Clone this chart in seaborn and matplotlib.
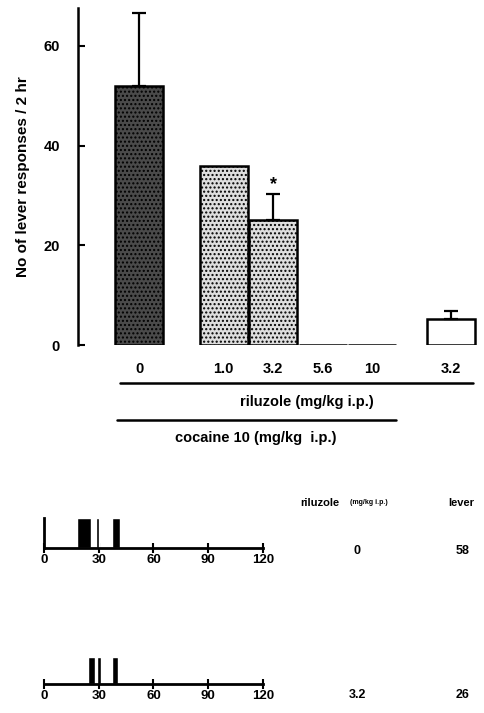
import matplotlib
matplotlib.use("Agg")
import matplotlib.pyplot as plt
import seaborn as sns
import numpy as np
import pandas as pd

# --- bar chart data: cocaine 10 mg/kg + riluzole, and riluzole alone ---
dose_labels = ['0', '1.0', '3.2', '5.6', '10', '3.2']
responses = [52, 36, 25.1, 0, 0, 5.2]
sem = [14.5, 0, 5.2, 0, 0, 1.6]
bar_pos = [0, 1.7, 2.7, 3.7, 4.7, 6.3]

# --- cumulative records (response bursts, minutes) ---
rec_times = [0, 30, 60, 90, 120]
rec1_bursts = [(17.9, 25.8), (28.3, 30.0), (37.1, 41.6)]
rec2_bursts = [(24.3, 28.2), (28.8, 31.2), (37.3, 40.6)]
rec_dose = ['0', '3.2']
rec_lever = ['58', '26']

sns.set_theme(style='white')
plt.rcParams['font.family'] = ['Liberation Sans', 'DejaVu Sans']
plt.rcParams['font.weight'] = 'bold'
plt.rcParams['text.color'] = 'black'
plt.rcParams['axes.labelcolor'] = 'black'
plt.rcParams['xtick.color'] = 'black'
plt.rcParams['ytick.color'] = 'black'

fig = plt.figure(figsize=(4.85, 7.13), dpi=100)

ax = fig.add_axes([0.1608, 0.5161, 0.8247, 0.4727])
df = pd.DataFrame({'pos': bar_pos, 'resp': responses})
sns.barplot(data=df, x='pos', y='resp', native_scale=True, width=0.97,
            color='white', edgecolor='black', linewidth=1.8, ax=ax,
            errorbar=None)

faces = ['#4a4a4a', '#dedede', '#dedede', 'white', 'white', 'white']
hatches = ['....', '....', '....', None, None, None]
for p, fc, h in zip(ax.patches, faces, hatches):
    p.set_facecolor(fc)
    p.set_edgecolor('black')
    if h:
        p.set_hatch(h)

pos = np.array(bar_pos)
resp = np.array(responses)
err = np.array(sem)
m = err > 0
ax.errorbar(pos[m], resp[m], yerr=[np.zeros(m.sum()), err[m]], fmt='none',
            ecolor='black', elinewidth=1.6, capsize=5, capthick=1.6)
ax.text(2.7, 30.4, '*', ha='center', va='bottom', fontsize=13)

ax.set_xlim(-1.2424, 6.838)
ax.set_ylim(0, 67.6)
ax.set_yticks([0, 20, 40, 60])
ax.set_yticklabels(['0', '20', '40', '60'], fontsize=10.5, fontweight='bold')
ax.tick_params(axis='y', direction='in', length=5, width=1.5, pad=13, left=True)
ax.set_xticks(bar_pos)
ax.set_xticklabels(dose_labels, fontsize=10.5, fontweight='bold')
ax.tick_params(axis='x', length=0, pad=12)
for s in ['top', 'right', 'bottom']:
    ax.spines[s].set_visible(False)
ax.spines['left'].set_linewidth(1.8)
ax.spines['left'].set_color('black')
ax.set_xlabel('')
ax.set_ylabel('No of lever responses / 2 hr', fontsize=11, fontweight='bold', labelpad=10)

tr = ax.get_xaxis_transform()
ax.plot([-0.394, 6.74], [-0.1128, -0.1128], color='black', lw=1.8, transform=tr, clip_on=False)
ax.plot([-0.455, 5.18], [-0.2226, -0.2226], color='black', lw=1.8, transform=tr, clip_on=False)
ax.text(3.38, -0.169, 'riluzole (mg/kg i.p.)', transform=tr, ha='center', va='center',
        fontsize=10.5, fontweight='bold')
ax.text(2.35, -0.276, 'cocaine 10 (mg/kg  i.p.)', transform=tr, ha='center', va='center',
        fontsize=10.5, fontweight='bold')

# --- cumulative records ---
rec_axes = [fig.add_axes([0.0907, 0.2314, 0.4515, 0.0421]),
            fig.add_axes([0.0907, 0.0407, 0.4515, 0.0379])]
for i, (rax, bursts) in enumerate(zip(rec_axes, [rec1_bursts, rec2_bursts])):
    rax.broken_barh([(a, b - a) for a, b in bursts], (0, 1), facecolors='black')
    rax.set_xlim(0, 120)
    rax.set_ylim(0, 1)
    rax.set_xticks(rec_times)
    rax.set_xticklabels([str(t) for t in rec_times], fontsize=9.5, fontweight='bold')
    rax.tick_params(axis='x', direction='inout', length=7, width=1.5, pad=1, bottom=True)
    rax.set_yticks([])
    for s in ['top', 'right', 'left']:
        rax.spines[s].set_visible(False)
    rax.spines['bottom'].set_linewidth(2)
    rax.spines['bottom'].set_color('black')
    if i == 0:
        rax.spines['left'].set_visible(True)
        rax.spines['left'].set_linewidth(2)
        rax.spines['left'].set_color('black')
    rax.patch.set_alpha(0)

fig.text(300 / 485, 1 - 503 / 713, 'riluzole', ha='left', va='center', fontsize=8, fontweight='bold')
fig.text(350 / 485, 1 - 503 / 713, '(mg/kg i.p.)', ha='left', va='center', fontsize=5)
fig.text(461 / 485, 1 - 503 / 713, 'lever', ha='center', va='center', fontsize=8, fontweight='bold')
for dose, lever, yp in zip(rec_dose, rec_lever, [551, 695]):
    fig.text(357 / 485, 1 - yp / 713, dose, ha='center', va='center', fontsize=9, fontweight='bold')
    fig.text(463 / 485, 1 - yp / 713, lever, ha='center', va='center', fontsize=9, fontweight='bold')

fig.savefig('out.png', dpi=100)
